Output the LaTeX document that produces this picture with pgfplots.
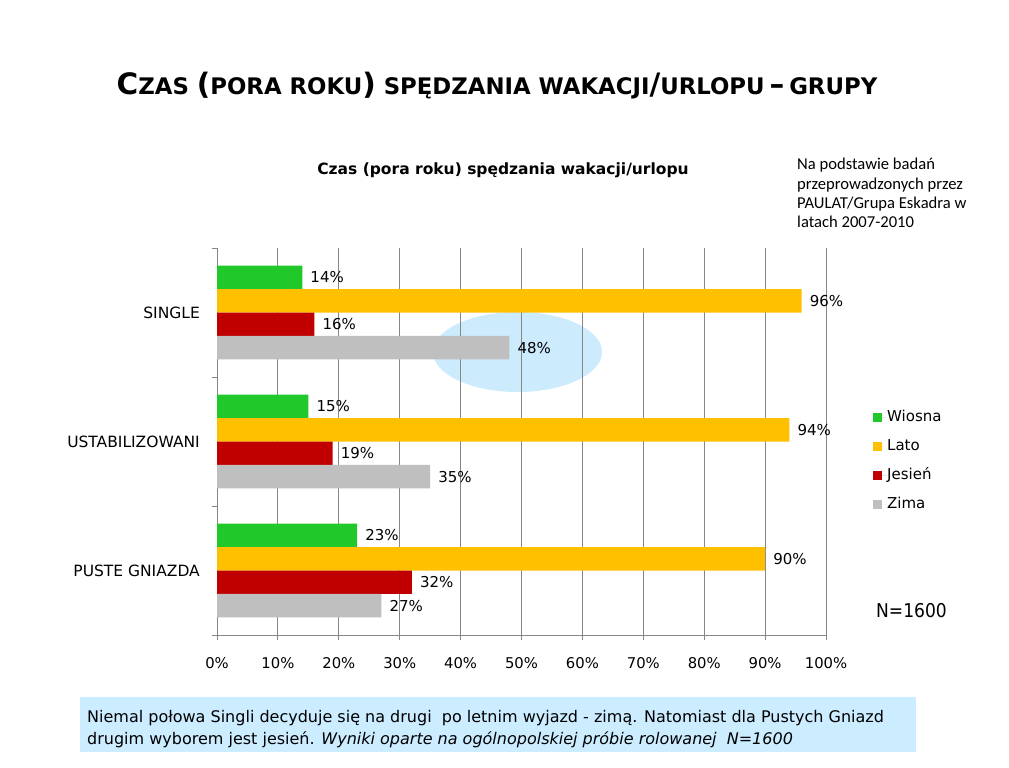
\documentclass[border=0pt]{standalone}
\usepackage{pgfplots}
\pgfplotsset{compat=1.18}
\usepackage{fontspec}
\setmainfont{DejaVu Sans}
\newfontfamily\cond{DejaVu Sans Condensed}
\newfontfamily\carl{Carlito}
\definecolor{cW}{RGB}{32,200,42}
\definecolor{cL}{RGB}{255,192,0}
\definecolor{cJ}{RGB}{192,0,0}
\definecolor{cZ}{RGB}{191,191,191}
\definecolor{gridc}{RGB}{134,134,134}
\definecolor{ell}{RGB}{204,235,253}
\definecolor{boxc}{RGB}{204,236,255}
\begin{document}
\begin{tikzpicture}
\path[use as bounding box, fill=white] (0,0) rectangle (1009pt,-768pt);
% title
\node[anchor=base, inner sep=0pt] at (497pt,-94pt) {\bfseries\fontsize{22.8}{24}\selectfont {\fontsize{29.5}{30}\selectfont C}ZAS {\fontsize{29.5}{30}\selectfont(}PORA ROKU{\fontsize{29.5}{30}\selectfont)} SPĘDZANIA WAKACJI{\fontsize{29.5}{30}\selectfont/}URLOPU{\fontsize{29.5}{30}\selectfont\,–\,}GRUPY};
% subtitle
\node[anchor=base, inner sep=0pt] at (503pt,-174pt) {\bfseries\fontsize{15.5}{19}\selectfont Czas (pora roku) spędzania wakacji/urlopu};
% note
\node[anchor=north west, inner sep=0pt, align=left, font={\carl\fontsize{16.6}{19.3}\selectfont}] at (797pt,-158pt) {Na podstawie badań\\przeprowadzonych przez\\PAULAT/Grupa Eskadra w\\latach 2007-2010};
% highlight ellipse
\fill[ell] (517.5pt,-352pt) ellipse (84.5pt and 40pt);
\begin{axis}[
  at={(217pt,-635pt)}, anchor=south west,
  scale only axis, width=609pt, height=387pt,
  xmin=0, xmax=100, ymin=-0.5, ymax=2.5,
  axis lines=left, axis line style={-, draw=gridc, line width=1pt},
  xtick={0,10,...,100},
  xticklabels={0\%,10\%,20\%,30\%,40\%,50\%,60\%,70\%,80\%,90\%,100\%},
  ytick={-0.5,0.5,1.5,2.5}, yticklabels={},
  tick align=outside, major tick length=5pt,
  tick style={draw=gridc, line width=1pt},
  xmajorgrids, grid style={draw=gridc, line width=1pt},
  x tick label style={font=\fontsize{14.8}{18}\selectfont, inner sep=0pt, yshift=-17pt},
  /pgf/number format/assume math mode=true,
  xbar, bar width=0.182, clip=false,
  nodes near coords={\pgfmathprintnumber{\pgfplotspointmeta}\%},
  every node near coord/.append style={font=\fontsize{15}{18}\selectfont, anchor=west, inner sep=0pt, xshift=8pt, text=black},
  legend style={at={(1.0722,0.585)}, anchor=north west, draw=none, fill=none,
    font=\fontsize{15}{18}\selectfont, row sep=15pt,
    nodes={inner sep=0pt, text height=11pt, text depth=3pt}},
  legend cell align=left,
  legend image code/.code={\fill[#1,draw=none] (0pt,-4.5pt) rectangle (9pt,4.5pt); \path (0pt,0pt) -- (14pt,0pt);},
]
\addplot[fill=cW, draw=none, bar shift=0.273] coordinates {(14,2) (15,1) (23,0)};
\addplot[fill=cL, draw=none, bar shift=0.091] coordinates {(96,2) (94,1) (90,0)};
\addplot[fill=cJ, draw=none, bar shift=-0.091] coordinates {(16,2) (19,1) (32,0)};
\addplot[fill=cZ, draw=none, bar shift=-0.273] coordinates {(48,2) (35,1) (27,0)};
\legend{Wiosna,Lato,Jesień,Zima}
\node[anchor=east, inner sep=0pt, xshift=-17pt, font=\fontsize{15.5}{18}\selectfont] at (axis cs:0,2) {SINGLE};
\node[anchor=east, inner sep=0pt, xshift=-17pt, font=\fontsize{15.5}{18}\selectfont] at (axis cs:0,1) {USTABILIZOWANI};
\node[anchor=east, inner sep=0pt, xshift=-17pt, font=\fontsize{15.5}{18}\selectfont] at (axis cs:0,0) {PUSTE GNIAZDA};
\end{axis}
\node[anchor=base west, inner sep=0pt] at (876pt,-617pt) {\cond\fontsize{19}{22}\selectfont N=1600};
% bottom box
\fill[boxc] (80pt,-697pt) rectangle (916pt,-752pt);
\node[anchor=base west, inner sep=0pt] at (87pt,-722pt) {\fontsize{16}{22}\selectfont Niemal połowa Singli decyduje się na drugi\ \ po letnim wyjazd - zimą. Natomiast dla Pustych Gniazd};
\node[anchor=base west, inner sep=0pt] at (87pt,-744pt) {\fontsize{16}{22}\selectfont drugim wyborem jest jesień. \itshape Wyniki oparte na ogólnopolskiej próbie rolowanej\ \ N=1600};
\end{tikzpicture}
\end{document}
